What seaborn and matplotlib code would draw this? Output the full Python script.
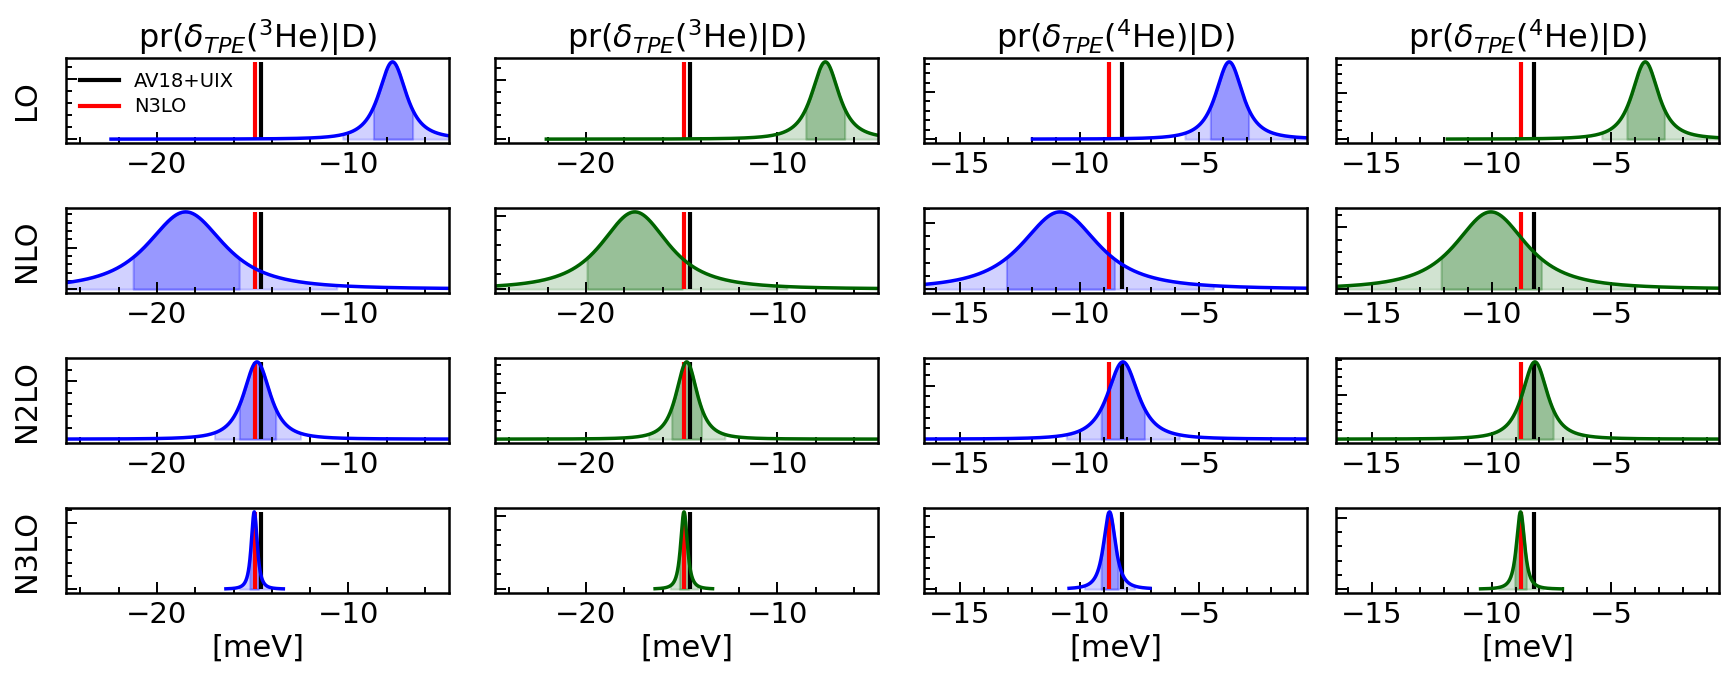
import numpy as np
import pandas as pd
import matplotlib
matplotlib.use("Agg")
import matplotlib.pyplot as plt
import seaborn as sns
from matplotlib.ticker import MultipleLocator, AutoMinorLocator
from matplotlib.lines import Line2D

# ----- values -----
orders = ["LO", "NLO", "N2LO", "N3LO"]
titles = [r"pr($\delta_{TPE}$($^{3}$He)|D)", r"pr($\delta_{TPE}$($^{3}$He)|D)",
          r"pr($\delta_{TPE}$($^{4}$He)|D)", r"pr($\delta_{TPE}$($^{4}$He)|D)"]
colors = ["blue", "darkgreen", "blue", "darkgreen"]

# posterior mode per column (rows LO..N3LO)
mode_c0 = [-7.7, -18.5, -14.78, -14.92]
mode_c1 = [-7.5, -17.45, -14.74, -14.88]
mode_c2 = [-3.75, -10.82, -8.19, -8.75]
mode_c3 = [-3.58, -10.03, -8.19, -8.79]

# width (scale) of the heavy-tailed posterior
width_c0 = [0.78, 2.15, 0.75, 0.17]
width_c1 = [0.77, 1.9, 0.6, 0.19]
width_c2 = [0.61, 1.72, 0.69, 0.27]
width_c3 = [0.6, 1.6, 0.57, 0.185]

# inner (dark) credible interval
inner_c0 = [(-8.7, -6.65), (-21.25, -15.7), (-15.7, -13.8), (-15.15, -14.7)]
inner_c1 = [(-8.52, -6.49), (-19.95, -14.97), (-15.52, -13.96), (-15.12, -14.64)]
inner_c2 = [(-4.54, -2.94), (-13.06, -8.54), (-9.1, -7.29), (-9.1, -8.4)]
inner_c3 = [(-4.35, -2.78), (-12.11, -7.92), (-8.92, -7.43), (-9.03, -8.55)]

# outer (light) credible interval
outer_c0 = [(-10.3, -4.0), (-26.0, -10.6), (-17.0, -12.5), (-15.7, -14.1)]
outer_c1 = [(-10.1, -4.0), (-25.0, -9.5), (-16.74, -12.74), (-15.6, -14.15)]
outer_c2 = [(-5.6, 0.0), (-17.5, -4.4), (-10.56, -5.83), (-9.8, -7.7)]
outer_c3 = [(-5.4, 0.0), (-16.5, -3.96), (-10.0, -6.18), (-9.7, -7.85)]

# sampled range of each curve
span_c0 = [(-22.4, -2.0), (-30.0, -2.0), (-30.0, -2.0), (-16.4, -13.4)]
span_c1 = [(-22.07, -2.0), (-30.0, -2.0), (-30.0, -2.0), (-16.39, -13.39)]
span_c2 = [(-11.97, 1.0), (-20.0, 1.0), (-20.0, 1.0), (-10.44, -7.06)]
span_c3 = [(-11.85, 1.0), (-20.0, 1.0), (-20.0, 1.0), (-10.46, -7.04)]

# reference calculations (vertical lines)
av18_uix = [-14.58, -14.58, -8.21, -8.21]
n3lo_ref = [-14.88, -14.88, -8.77, -8.77]

modes = [mode_c0, mode_c1, mode_c2, mode_c3]
widths = [width_c0, width_c1, width_c2, width_c3]
inners = [inner_c0, inner_c1, inner_c2, inner_c3]
outers = [outer_c0, outer_c1, outer_c2, outer_c3]
spans = [span_c0, span_c1, span_c2, span_c3]

xlims = [(-24.75, -4.75), (-24.75, -4.75), (-16.5, -0.5), (-16.5, -0.5)]
major_step = [10, 10, 5, 5]
minor_step = [2, 2, 1, 1]

# ----- layout -----
W, H = 1727, 678
fig = plt.figure(figsize=(W / 100, H / 100), dpi=100)
lefts = [66, 495, 924, 1336]
tops = [58, 208, 358, 508]
aw, ah = 383, 85


def student_t2(x, mu, s):
    # nu = 2 student-t shape (unnormalised)
    z = (x - mu) / s
    return (1 + z ** 2 / 2) ** -1.5 / s


for c in range(4):
    for r in range(4):
        ax = fig.add_axes([lefts[c] / W, 1 - (tops[r] + ah) / H, aw / W, ah / H])
        x = np.linspace(spans[c][r][0], spans[c][r][1], 3000)
        y = student_t2(x, modes[c][r], widths[c][r])
        df = pd.DataFrame({"x": x, "pdf": y})
        col = colors[c]

        lo, hi = outers[c][r]
        m = (x >= lo) & (x <= hi)
        ax.fill_between(x[m], 0, y[m], color=col, alpha=0.18, lw=1.5)
        lo, hi = inners[c][r]
        m = (x >= lo) & (x <= hi)
        ax.fill_between(x[m], 0, y[m], color=col, alpha=0.27, lw=1.5)

        ax.vlines(av18_uix[c], 0, y.max(), color="black", lw=3)
        ax.vlines(n3lo_ref[c], 0, y.max(), color="red", lw=3)
        sns.lineplot(data=df, x="x", y="pdf", ax=ax, color=col, lw=2.5,
                     estimator=None, sort=False)

        ax.set_xlim(*xlims[c])
        ax.xaxis.set_major_locator(MultipleLocator(major_step[c]))
        ax.xaxis.set_minor_locator(MultipleLocator(minor_step[c]))
        ax.yaxis.set_minor_locator(AutoMinorLocator())
        ax.tick_params(which="both", direction="in", width=1.4, labelsize=21, pad=6,
                       labelleft=False)
        ax.tick_params(which="major", length=8)
        ax.tick_params(which="minor", length=4.5)
        for sp in ax.spines.values():
            sp.set_linewidth(1.8)

        ax.set_ylabel(orders[r] if c == 0 else "", fontsize=22, labelpad=18)
        ax.set_xlabel("[meV]" if r == 3 else "", fontsize=22, labelpad=3)
        if r == 0:
            ax.set_title(titles[c], fontsize=23, pad=7)
        if r == 0 and c == 0:
            handles = [Line2D([], [], color="black", lw=3),
                       Line2D([], [], color="red", lw=3)]
            ax.legend(handles, ["AV18+UIX", "N3LO"], loc="upper left", frameon=False,
                      fontsize=14, handlelength=2.0, labelspacing=0.35,
                      borderaxespad=0.3, handletextpad=0.8)

fig.savefig("out.png", dpi=100)
